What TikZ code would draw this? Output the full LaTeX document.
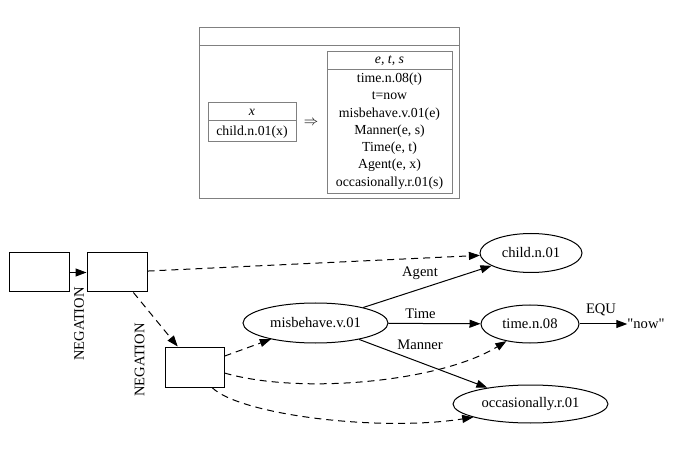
\documentclass[tikz,border=0pt]{standalone}
\usepackage{fontspec}
\setmainfont{Liberation Serif}[Ligatures=TeXOff]
\usetikzlibrary{arrows.meta,shapes.geometric,calc}
\definecolor{drsgray}{RGB}{128,128,128}
\begin{document}
\begin{tikzpicture}[x=1pt,y=-1pt,
  every node/.style={font=\fontsize{14.6}{17}\selectfont, inner sep=0pt},
  drstxt/.style={font=\fontsize{13.8}{17}\selectfont, anchor=center},
  drsline/.style={draw=drsgray, line width=1pt},
  boxnode/.style={draw, rectangle, line width=1pt, minimum width=60pt, minimum height=39pt},
  ellnode/.style={draw, ellipse, line width=1pt},
  edgearr/.style={line width=1pt, -{Triangle[length=11pt,width=8pt]}},
  dashedge/.style={edgearr, dash pattern=on 7pt off 5pt},
  lbl/.style={anchor=center}
]
\useasboundingbox (0,0) rectangle (680,462);

% ---- DRS box ----
\draw[drsline] (199,28) rectangle (459,199);
\draw[drsline] (199,46) -- (459,46);
\draw[drsline] (208,103) rectangle (296,142);
\draw[drsline] (208,121) -- (296,121);
\node[drstxt] (lx) at (252,112) {\textit{x}};
\node[drstxt] (lchild) at (252,132) {child.n.01(x)};
\node[drstxt] (imp) at (311,123) {$\Rightarrow$};
\draw[drsline] (327,52) rectangle (452,194);
\draw[drsline] (327,70) -- (452,70);
\node[drstxt] (r0) at (389.5,61) {\textit{e, t, s}};
\node[drstxt] (r1) at (389.5,79) {time.n.08(t)};
\node[drstxt] (r2) at (389.5,96) {t=now};
\node[drstxt] (r3) at (389.5,114) {misbehave.v.01(e)};
\node[drstxt] (r4) at (389.5,131) {Manner(e, s)};
\node[drstxt] (r5) at (389.5,148) {Time(e, t)};
\node[drstxt] (r6) at (389.5,165) {Agent(e, x)};
\node[drstxt] (r7) at (389.5,183) {occasionally.r.01(s)};

% ---- graph ----
\node[boxnode] (b1) at (39,272.5) {};
\node[boxnode] (b2) at (117,272.5) {};
\node[boxnode, minimum width=59pt, minimum height=40pt] (b3) at (194.5,367) {};
\node[ellnode, minimum width=102pt, minimum height=39pt] (child) at (531,253) {child.n.01};
\node[ellnode, minimum width=145pt, minimum height=40pt] (misb) at (315.5,323) {misbehave.v.01};
\node[ellnode, minimum width=98pt, minimum height=38pt] (timen) at (530,324) {time.n.08};
\node[ellnode, minimum width=155pt, minimum height=38pt] (occ) at (530.5,404) {occasionally.r.01};
\node[lbl] (now) at (646,324) {"now"};

\draw[edgearr] (b1) -- (b2);
\node[lbl, rotate=90] (neg1) at (79,324) {NEGATION};
\draw[dashedge] (b2) -- (b3);
\node[lbl, rotate=90] (neg2) at (139.5,360) {NEGATION};
\draw[dashedge] (b2) -- (child);
\draw[dashedge] (b3) -- (misb);
\draw[dashedge] ($(b3.east)+(0,6)$) .. controls (300,395) and (440,382) .. (timen.216);
\draw[dashedge] ($(b3.south)+(17.5,0)$) .. controls (240,415) and (380,432) .. (occ.193);

\draw[edgearr] (misb) -- (child);
\draw[edgearr] (misb) -- (timen);
\draw[edgearr] (misb) -- (occ);
\draw[edgearr] (timen) -- (now);
\node[lbl] (lagent) at (420,273) {Agent};
\node[lbl] (ltime) at (420.5,314) {Time};
\node[lbl] (lmanner) at (420,345) {Manner};
\node[lbl] (lequ) at (601,310) {EQU};
\end{tikzpicture}
\end{document}
